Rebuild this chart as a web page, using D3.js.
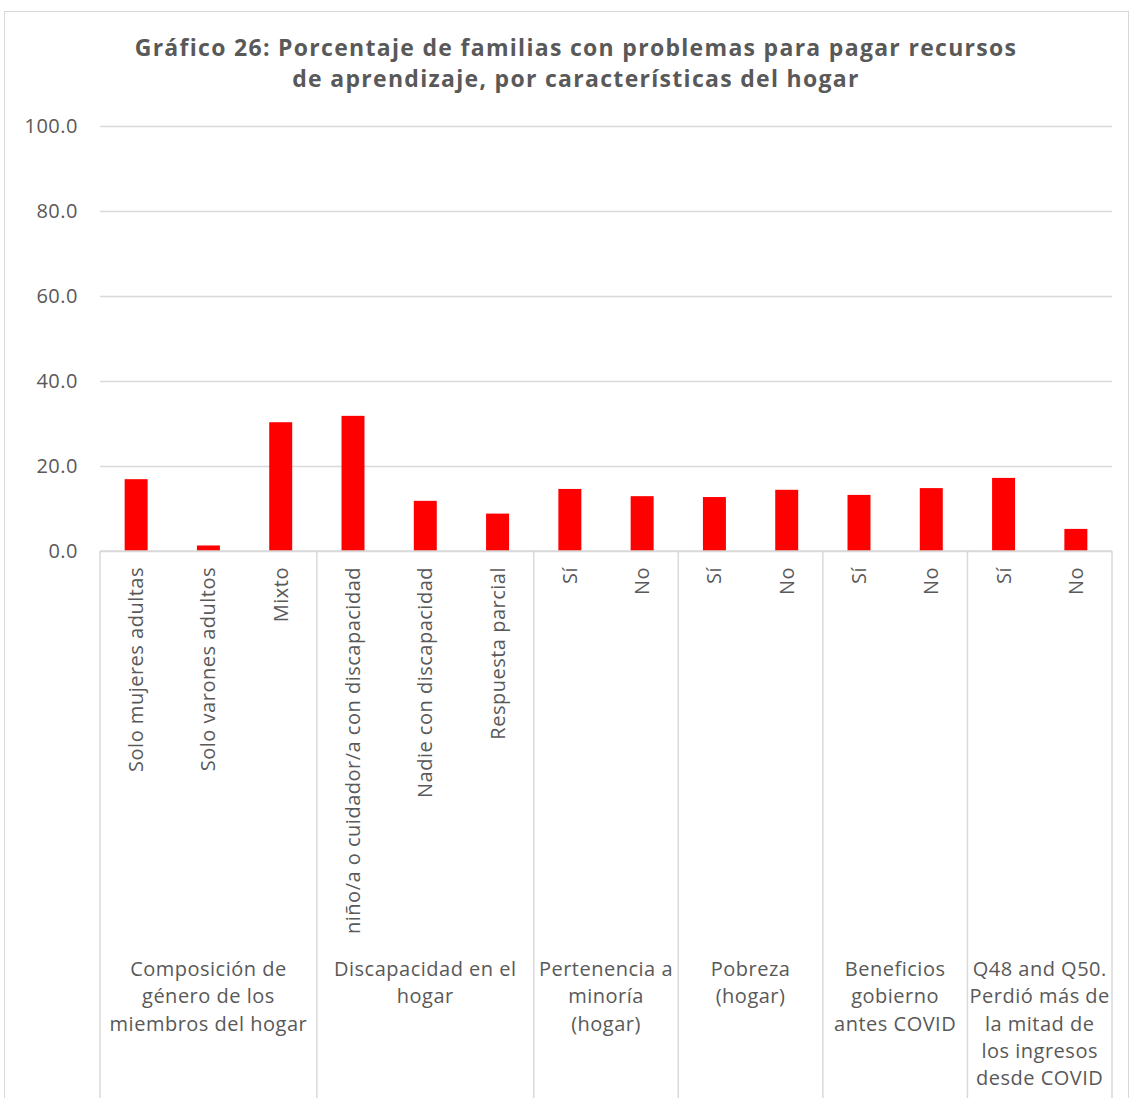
<!DOCTYPE html>
<html>
<head>
<meta charset="utf-8">
<script src="https://cdn.jsdelivr.net/npm/d3@7"></script>
<style>
  body { margin: 0; background: #fff; }
  svg { font-family: "Open Sans", Lato, sans-serif; }
</style>
</head>
<body>
<svg class="chart"></svg>
<script>
// Chart data
let titleLines = ['Gráfico 26: Porcentaje de familias con problemas para pagar recursos',
  'de aprendizaje, por características del hogar'];
let categories = ['Solo mujeres adultas', 'Solo varones adultos', 'Mixto',
  'niño/a o cuidador/a con discapacidad', 'Nadie con discapacidad', 'Respuesta parcial',
  'Sí', 'No', 'Sí', 'No', 'Sí', 'No', 'Sí', 'No'];
let values = [16.9, 1.3, 30.3, 31.8, 11.8, 8.8, 14.6, 12.9, 12.7, 14.4, 13.2, 14.8, 17.2, 5.2];
let groupNames = [
  ['Composición de', 'género de los', 'miembros del hogar'],
  ['Discapacidad en el', 'hogar'],
  ['Pertenencia a', 'minoría', '(hogar)'],
  ['Pobreza', '(hogar)'],
  ['Beneficios', 'gobierno', 'antes COVID'],
  ['Q48 and Q50.', 'Perdió más de', 'la mitad de', 'los ingresos', 'desde COVID']
];
let groupSizes = [3, 3, 2, 2, 2, 2];
let yTicks = [0, 20, 40, 60, 80, 100];

let W = 1131, H = 1098;
let margin = {top: 126, left: 100, right: 19, bottom: 547};
let width = W - margin.left - margin.right,
  height = H - margin.top - margin.bottom;

let textColor = '#595959', gridColor = '#d9d9d9';
let labelSize = 20, labelSpacing = 0.5;

let svg = d3.select('.chart')
  .attr('width', W)
  .attr('height', H);

// outer chart border
svg.append('rect')
  .attr('x', 4.5).attr('y', 11.5)
  .attr('width', 1124).attr('height', 1100)
  .attr('fill', 'none')
  .attr('stroke', gridColor);

// title
svg.append('g')
  .selectAll('text')
  .data(titleLines)
  .enter().append('text')
  .attr('x', 576)
  .attr('y', (d, i) => 56 + i * 31)
  .attr('text-anchor', 'middle')
  .attr('font-size', 23)
  .attr('letter-spacing', 1.3)
  .attr('font-weight', 'bold')
  .attr('fill', textColor)
  .text((d) => d);

let g = svg.append('g')
  .attr('transform', 'translate(' + margin.left + ',' + margin.top + ')');

let keys = categories.map((c, i) => String(i));

let x = d3.scaleBand()
  .domain(keys)
  .range([0, width])
  .padding(0);

let y = d3.scaleLinear()
  .domain([0, 100])
  .range([height, 0]);

// y axis with gridlines
let yAxis = g.append('g')
  .attr('class', 'y-axis')
  .call(d3.axisLeft(y).tickValues(yTicks).tickFormat(d3.format('.1f')).tickSize(-width).tickPadding(22));
yAxis.select('.domain').remove();
yAxis.selectAll('line')
  .attr('stroke', gridColor)
  .attr('stroke-width', 1.5);
yAxis.selectAll('text')
  .attr('fill', textColor)
  .attr('font-size', labelSize)
  .attr('letter-spacing', labelSpacing)
  .attr('font-family', '"Open Sans", sans-serif');

// bars
let barW = x.bandwidth() * 0.318;
g.selectAll('.bar')
  .data(values)
  .enter().append('rect')
  .attr('class', 'bar')
  .attr('x', (d, i) => x(keys[i]) + (x.bandwidth() - barW) / 2)
  .attr('y', (d) => y(d))
  .attr('width', barW)
  .attr('height', (d) => height - y(d))
  .attr('fill', '#ff0000');

// x axis line
g.append('line')
  .attr('x1', 0).attr('x2', width)
  .attr('y1', height).attr('y2', height)
  .attr('stroke', gridColor)
  .attr('stroke-width', 1.5);

// category labels, rotated
let xAxis = g.append('g')
  .attr('class', 'x-axis')
  .attr('transform', 'translate(0,' + height + ')')
  .call(d3.axisBottom(x).tickSize(0).tickFormat((k) => categories[+k]));
xAxis.select('.domain').remove();
xAxis.selectAll('text')
  .attr('fill', textColor)
  .attr('font-size', labelSize)
  .attr('letter-spacing', labelSpacing)
  .attr('font-family', '"Open Sans", sans-serif')
  .attr('text-anchor', 'end')
  .attr('transform', 'rotate(-90)')
  .attr('x', -16)
  .attr('y', 0)
  .attr('dy', '0.35em');

// group separators and group labels
let starts = [0];
groupSizes.forEach((s, i) => starts.push(starts[i] + s));
let bounds = starts.map((s) => s < keys.length ? x(keys[s]) : width);

g.selectAll('.sep')
  .data(bounds)
  .enter().append('line')
  .attr('class', 'sep')
  .attr('x1', (d) => d).attr('x2', (d) => d)
  .attr('y1', height).attr('y2', H - margin.top + 5)
  .attr('stroke', gridColor)
  .attr('stroke-width', 1.5);

let groupLabels = g.selectAll('.group-label')
  .data(groupNames)
  .enter().append('text')
  .attr('class', 'group-label')
  .attr('text-anchor', 'middle')
  .attr('font-size', labelSize)
  .attr('letter-spacing', labelSpacing)
  .attr('fill', textColor);

groupLabels.selectAll('tspan')
  .data((d, i) => d.map((line) => ({line: line, cx: (bounds[i] + bounds[i + 1]) / 2})))
  .enter().append('tspan')
  .attr('x', (d) => d.cx)
  .attr('y', (d, j) => 850 + j * 27.3)
  .text((d) => d.line);
</script>
</body>
</html>
